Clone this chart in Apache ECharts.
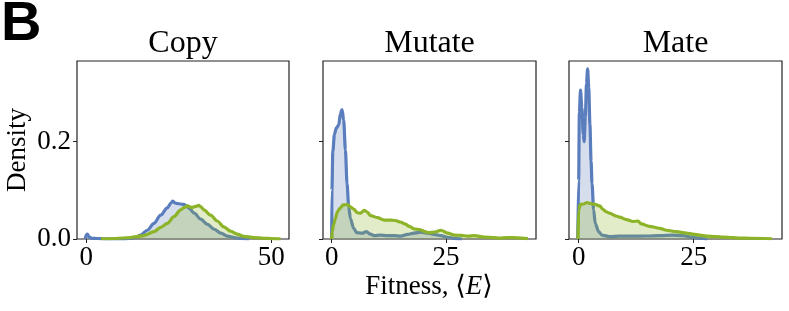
<!DOCTYPE html>
<html>
<head>
<meta charset="utf-8">
<script src="https://cdn.jsdelivr.net/npm/echarts@6/dist/echarts.min.js"></script>
<style>html,body{margin:0;padding:0;background:#fff}#c{width:789px;height:311px}</style>
</head>
<body>
<div id="c"></div>
<script>
// ---- data ----
const panelTitles = ['Copy', 'Mutate', 'Mate'];
const xTicks = [[0, 50], [0, 25], [0, 25]];
const yTicks = [0, 0.2];
const xRanges = [[-2.5, 54.8], [-1.9, 44.7], [-2.1, 44.2]];
const yRange = [0, 0.366];

const copyBlue = [[-0.3,0],[0,0.008],[0.3,0.010],[0.8,0.004],[1.5,0.0015],[3,0.001],[4.5,0.0005],[6,0],[10,0],[11.9,0.001],[13.5,0.004],[14.7,0.008],[16.5,0.018],[18.3,0.032],[20.1,0.049],[21.9,0.064],[23.0,0.075],[23.4,0.078],[24.0,0.074],[24.6,0.073],[25.5,0.072],[26.4,0.071],[27.1,0.068],[27.8,0.063],[29.2,0.053],[30.9,0.041],[32.8,0.030],[34.6,0.020],[36.4,0.012],[38.2,0.006],[40,0.003],[41.8,0.001],[44,0]];
const copyGreen = [[4,0.0005],[8,0.001],[11.9,0.003],[13.5,0.005],[15.6,0.007],[18.3,0.015],[20.1,0.024],[21.9,0.032],[23.7,0.046],[25.5,0.060],[26.5,0.065],[27.3,0.068],[28.6,0.065],[29.5,0.067],[30.4,0.069],[31.0,0.066],[31.8,0.060],[33.6,0.049],[35.4,0.037],[37.2,0.025],[39.0,0.016],[40.8,0.010],[42.6,0.0055],[45.3,0.003],[48,0.0015],[50,0.0008],[52.5,0.0003]];
const mutateBlue = [[0,0],[0.05,0.1],[0.25,0.18],[0.6,0.215],[1.0,0.228],[1.54,0.234],[1.9,0.258],[2.27,0.266],[2.63,0.244],[3.0,0.183],[3.36,0.114],[3.73,0.066],[4.1,0.042],[4.8,0.022],[5.5,0.013],[6.6,0.012],[7.6,0.015],[8.5,0.010],[9.3,0.007],[10.7,0.008],[12.2,0.007],[13.7,0.007],[15.1,0.006],[16.6,0.0096],[18.0,0.012],[19.5,0.014],[21.0,0.012],[22.4,0.0096],[23.9,0.007],[25.4,0.0035],[26.8,0.0014],[28.5,0]];
const mutateGreen = [[0,0],[0.1,0.015],[0.44,0.03],[0.8,0.042],[1.24,0.056],[1.9,0.064],[2.5,0.070],[3.4,0.071],[4.1,0.066],[4.9,0.061],[5.6,0.054],[6.3,0.053],[7.1,0.059],[7.7,0.056],[8.55,0.048],[10,0.044],[11.5,0.039],[12.9,0.039],[13.9,0.038],[15.0,0.035],[16.0,0.031],[17.0,0.026],[18.0,0.021],[19.4,0.019],[20.4,0.015],[21.3,0.013],[22.4,0.014],[23.9,0.018],[25.4,0.012],[27.0,0.008],[28.3,0.0075],[29.8,0.006],[31.2,0.007],[33.4,0.004],[35.6,0.0027],[36.5,0.002],[38.5,0.003],[40.7,0.0025],[42.9,0.0008]];
const mateBlue = [[-0.2,0],[0.0,0.12],[0.15,0.26],[0.4,0.306],[0.7,0.27],[1.0,0.215],[1.2,0.2],[1.45,0.25],[1.7,0.32],[1.95,0.35],[2.2,0.31],[2.45,0.235],[2.7,0.16],[2.9,0.114],[3.26,0.06],[3.6,0.032],[4.35,0.015],[5.07,0.008],[6.7,0.005],[8.9,0.006],[11.8,0.006],[14.7,0.0062],[17.6,0.007],[20.5,0.008],[22.7,0.007],[24.8,0.0035],[26.3,0.0015],[28,0]];
const mateGreen = [[-0.15,0],[0.0,0.06],[0.37,0.071],[1.09,0.072],[1.8,0.075],[2.54,0.073],[3.6,0.071],[4.57,0.068],[5.3,0.061],[6.0,0.056],[6.7,0.053],[8.2,0.047],[8.9,0.045],[10.4,0.040],[11.8,0.036],[12.9,0.037],[13.6,0.031],[15.4,0.026],[17.6,0.022],[19.1,0.018],[21.2,0.015],[23.4,0.012],[24.8,0.010],[26.3,0.008],[27.8,0.006],[29.9,0.005],[31.4,0.004],[33.5,0.003],[35,0.0018],[37.2,0.0015],[42.0,0.0005]];

const blueSets = [copyBlue, mutateBlue, mateBlue];
const greenSets = [copyGreen, mutateGreen, mateGreen];

// ---- layout / style ----
const BLUE = '#5a7dbd', GREEN = '#8db428';
const SERIF = '"Liberation Serif", "DejaVu Serif", serif';
const grids = [
  {left: 77, top: 61, width: 212, height: 178},
  {left: 323, top: 61, width: 213, height: 178},
  {left: 569, top: 61, width: 213, height: 178}
];

const chart = echarts.init(document.getElementById('c'), null, {renderer: 'canvas'});
const option = {
  animation: false,
  grid: grids.map(g => Object.assign({show: true, borderColor: '#222', borderWidth: 1.2, backgroundColor: 'transparent'}, g)),
  xAxis: grids.map((g, i) => ({
    type: 'value', gridIndex: i, min: xRanges[i][0], max: xRanges[i][1], position: 'bottom',
    axisLine: {show: false, onZero: false}, splitLine: {show: false},
    axisTick: {show: true, length: 4, inside: false, customValues: xTicks[i], lineStyle: {color: '#222', width: 1}},
    axisLabel: {show: true, customValues: xTicks[i], margin: 5, color: '#000', fontFamily: SERIF, fontSize: 27}
  })),
  yAxis: grids.map((g, i) => ({
    type: 'value', gridIndex: i, min: yRange[0], max: yRange[1], position: 'left',
    axisLine: {show: false, onZero: false}, splitLine: {show: false},
    axisTick: {show: true, length: 4, inside: false, customValues: yTicks, lineStyle: {color: '#222', width: 1}},
    axisLabel: {show: i === 0, customValues: yTicks, margin: 6, color: '#000', fontFamily: SERIF, fontSize: 27,
      formatter: v => v.toFixed(1)}
  })),
  series: [],
  graphic: [
    {type: 'text', x: 1, y: 25, style: {text: 'B', font: 'bold 56px "Liberation Sans", Arial, sans-serif', fill: '#000', align: 'left', verticalAlign: 'middle'}},
    {type: 'text', x: 18, y: 150, rotation: Math.PI / 2, style: {text: 'Density', font: '27px ' + SERIF, fill: '#000', align: 'center', verticalAlign: 'middle'}},
    {type: 'text', x: 429, y: 287, style: {
      text: '{n|Fitness, }{b|\u27E8}{e|E}{b|\u27E9}',
      rich: {
        n: {font: '27px ' + SERIF, fill: '#000'},
        e: {font: 'italic 27px ' + SERIF, fill: '#000'},
        b: {font: '27px "DejaVu Serif", serif', fill: '#000'}
      },
      align: 'center', verticalAlign: 'middle'}}
  ]
};
grids.forEach((g, i) => {
  option.graphic.push({type: 'text', x: g.left + g.width / 2, y: 44,
    style: {text: panelTitles[i], font: '32px ' + SERIF, fill: '#000', align: 'center', verticalAlign: 'middle'}});
  [[blueSets[i], BLUE, 2], [greenSets[i], GREEN, 3]].forEach(([data, col, z]) => {
    option.series.push({
      type: 'line', xAxisIndex: i, yAxisIndex: i, data: data,
      showSymbol: false, symbol: 'none', smooth: 0.3, smoothMonotone: 'x',
      lineStyle: {color: col, width: 3.2},
      areaStyle: {color: col, opacity: 0.25, origin: 'start'},
      emphasis: {disabled: true},
      z: z
    });
  });
});
chart.setOption(option);
</script>
</body>
</html>
